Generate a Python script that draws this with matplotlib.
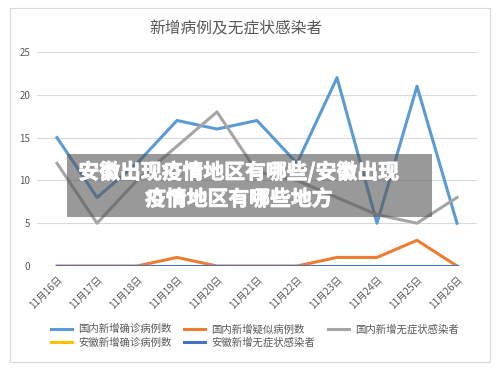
import matplotlib
matplotlib.use('Agg')
import matplotlib.pyplot as plt
import matplotlib.patheffects as pe
from matplotlib.patches import Rectangle

plt.rcParams['font.family'] = ['Noto Sans CJK SC', 'DejaVu Sans']

# data
dates = ['11月16日', '11月17日', '11月18日', '11月19日', '11月20日', '11月21日',
         '11月22日', '11月23日', '11月24日', '11月25日', '11月26日']
domestic_confirmed = [15, 8, 12, 17, 16, 17, 12, 22, 5, 21, 5]
domestic_suspected = [0, 0, 0, 1, 0, 0, 0, 1, 1, 3, 0]
domestic_asymptomatic = [12, 5, 10, 14, 18, 11, 10, 8, 6, 5, 8]
anhui_confirmed = [0, 0, 0, 0, 0, 0, 0, 0, 0, 0, 0]
anhui_asymptomatic = [0, 0, 0, 0, 0, 0, 0, 0, 0, 0, 0]

series = [
    ('国内新增确诊病例数', domestic_confirmed, '#5B9BD5'),
    ('国内新增疑似病例数', domestic_suspected, '#ED7D31'),
    ('国内新增无症状感染者', domestic_asymptomatic, '#A5A5A5'),
    ('安徽新增确诊病例数', anhui_confirmed, '#FFC000'),
    ('安徽新增无症状感染者', anhui_asymptomatic, '#4472C4'),
]

W, H = 500, 372
fig = plt.figure(figsize=(W / 100, H / 100), dpi=100)
fig.patch.set_facecolor('white')

# card border
fig.patches.append(Rectangle((10 / W, 1 - 362 / H), 480 / W, 354 / H,
                             transform=fig.transFigure, facecolor='white',
                             edgecolor='#d9d9d9', linewidth=0.8, zorder=-5))

ax = fig.add_axes([37 / W, 1 - 266 / H, 440 / W, 214 / H])
ax.set_facecolor('none')
x = list(range(len(dates)))
handles = []
for name, vals, color in series:
    h, = ax.plot(x, vals, color=color, linewidth=2.2, label=name)
    handles.append(h)

ax.set_xlim(-0.5, len(dates) - 0.5)
ax.set_ylim(0, 25)
ax.set_yticks([0, 5, 10, 15, 20, 25])
ax.grid(axis='y', color='#d9d9d9', linewidth=0.8)
ax.set_axisbelow(True)
for s in ax.spines.values():
    s.set_visible(False)
ax.tick_params(axis='both', length=0, colors='#595959', labelsize=7)
ax.tick_params(axis='y', pad=5)
ax.set_xticks(x)
ax.set_xticklabels(dates, rotation=45, ha='right', rotation_mode='anchor')
ax.tick_params(axis='x', pad=6)

fig.text(236 / W, 1 - 29 / H, '新增病例及无症状感染者', ha='center', va='center',
         fontsize=11.3, color='#595959')

# legend filled row-wise (matplotlib fills column-wise)
order = [0, 3, 1, 4, 2]
fig.legend([handles[i] for i in order], [series[i][0] for i in order],
           loc='upper left', bbox_to_anchor=(51 / W, 1 - 324 / H), ncol=3, frameon=False,
           fontsize=7.5, labelcolor='#595959', handlelength=2.0, columnspacing=1.25,
           handletextpad=0.6, borderaxespad=0, borderpad=0, labelspacing=0.3)

# overlay banner
fig.patches.append(Rectangle((67 / W, 1 - 217 / H), 365 / W, 63 / H,
                             transform=fig.transFigure, facecolor='#555555',
                             alpha=0.6, edgecolor='none', zorder=5))
heavy = [pe.withStroke(linewidth=0.6, foreground='white')]
fig.text(239 / W, 1 - 172 / H, '安徽出现疫情地区有哪些/安徽出现', ha='center', va='center',
         fontsize=15, fontweight='bold', color='white', zorder=6, path_effects=heavy)
fig.text(239 / W, 1 - 199 / H, '疫情地区有哪些地方', ha='center', va='center',
         fontsize=15, fontweight='bold', color='white', zorder=6, path_effects=heavy)

fig.savefig('out.png', dpi=100, facecolor='white')
